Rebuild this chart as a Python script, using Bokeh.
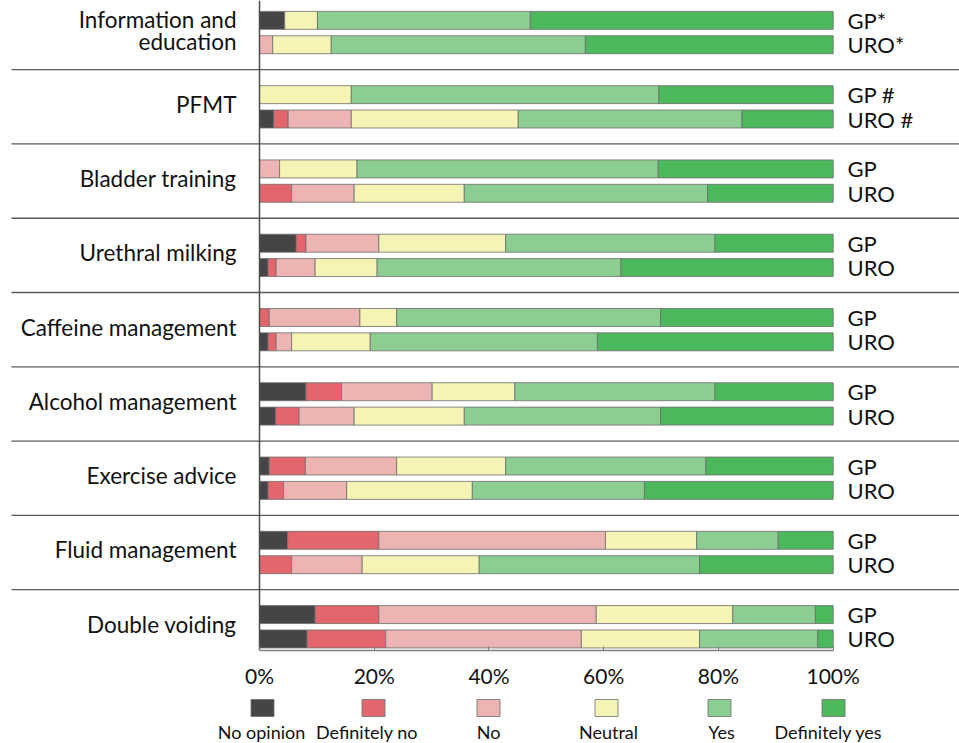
from bokeh.plotting import figure
from bokeh.models import Range1d, LinearAxis, FixedTicker, PrintfTickFormatter, ColumnDataSource
from bokeh.layouts import column
from bokeh.embed import file_html
from bokeh.resources import INLINE
from bokeh.core.properties import value

# ---------------- data ----------------
topics = ["Information and\neducation", "PFMT", "Bladder training", "Urethral milking",
          "Caffeine management", "Alcohol management", "Exercise advice",
          "Fluid management", "Double voiding"]
gp_labels = ["GP*", "GP #", "GP", "GP", "GP", "GP", "GP", "GP", "GP"]
uro_labels = ["URO*", "URO #", "URO", "URO", "URO", "URO", "URO", "URO", "URO"]
responses = ["No opinion", "Definitely no", "No", "Neutral", "Yes", "Definitely yes"]
colors = ["#454547", "#E3666D", "#EDB4B4", "#F5F4B5", "#8CCD91", "#4CB85C"]

gp_no_opinion = [4.4, 0, 0, 6.4, 0, 8.1, 1.7, 4.9, 9.7]
gp_def_no     = [0, 0, 0, 1.7, 1.7, 6.2, 6.3, 15.9, 11.1]
gp_no         = [0, 0, 3.5, 12.7, 15.8, 15.8, 15.9, 39.5, 37.9]
gp_neutral    = [5.7, 16.0, 13.5, 22.1, 6.4, 14.4, 19.0, 15.9, 23.8]
gp_yes        = [37.1, 53.6, 52.5, 36.5, 46.0, 34.9, 34.9, 14.2, 14.4]
gp_def_yes    = [52.8, 30.4, 30.5, 20.6, 30.1, 20.6, 22.2, 9.6, 3.1]

uro_no_opinion = [0, 2.5, 0, 1.5, 1.5, 2.8, 1.5, 0, 8.3]
uro_def_no     = [0, 2.5, 5.6, 1.4, 1.4, 4.1, 2.7, 5.6, 13.7]
uro_no         = [2.3, 11.0, 10.9, 6.8, 2.7, 9.6, 11.0, 12.3, 34.1]
uro_neutral    = [10.2, 29.1, 19.2, 10.8, 13.7, 19.2, 21.9, 20.4, 20.6]
uro_yes        = [44.3, 39.0, 42.4, 42.5, 39.6, 34.2, 30.0, 38.4, 20.6]
uro_def_yes    = [43.2, 15.9, 21.9, 37.0, 41.1, 30.1, 32.9, 23.3, 2.7]

ticks = [0, 20, 40, 60, 80, 100]

# ---------------- layout constants ----------------
W = 959
PX = 5.737            # pixels per percent
X0_PX = 259           # figure-x of 0 %
GROUP_PX = 74.39      # pixels per topic group
GROUP0_PX = 32.1      # page-y of first group centre
x_start = -X0_PX / PX
x_end = 100 + (W - X0_PX - 573.7) / PX
FONT = value("Lato")
EDGE = "#6E6E6E"

def px_x(v):
    return (v - X0_PX) / PX

xr = Range1d(start=x_start, end=x_end)
main_h = 690
frame_h = 651
top_off = (0 - GROUP0_PX) / GROUP_PX
yr = Range1d(start=top_off + frame_h / GROUP_PX, end=top_off)

p = figure(width=W, height=main_h, x_range=xr, y_range=yr, output_backend="svg",
           toolbar_location=None, x_axis_location=None, y_axis_location=None,
           min_border_left=0, min_border_right=0, min_border_top=0,
           min_border_bottom=main_h - frame_h)
p.outline_line_color = None
p.xgrid.visible = False
p.ygrid.visible = False

gp_series = [gp_no_opinion, gp_def_no, gp_no, gp_neutral, gp_yes, gp_def_yes]
uro_series = [uro_no_opinion, uro_def_no, uro_no, uro_neutral, uro_yes, uro_def_yes]

off = 12.2 / GROUP_PX
bh = 18.0 / GROUP_PX
ys, lefts, rights, fills = [], [], [], []
for series, dy in ((gp_series, -off), (uro_series, off)):
    for i in range(len(topics)):
        cum = 0.0
        for k, s in enumerate(series):
            v = s[i]
            if v > 0:
                ys.append(i + dy)
                lefts.append(cum)
                rights.append(cum + v)
                fills.append(colors[k])
            cum += v
src = ColumnDataSource(dict(y=ys, left=lefts, right=rights, fill=fills))
p.hbar(y="y", left="left", right="right", height=bh, fill_color="fill",
       line_color=EDGE, line_width=1, line_alpha=0.8, source=src)

# separators between topics
n = len(topics)
sep_y = [i + 0.5 for i in range(n - 1)]
p.segment(x0=[px_x(11)] * len(sep_y), x1=[x_end] * len(sep_y), y0=sep_y, y1=sep_y,
          line_color="#5A5A5A", line_width=1.3)
# vertical base line at 0 %
p.segment(x0=[0], x1=[0], y0=[yr.end], y1=[yr.start], line_color="#4D4D4D", line_width=1.5)

# topic labels (left)
lx, ly, lt = [], [], []
line_gap = 22.0 / GROUP_PX
lift = 2.5 / GROUP_PX
for i, t in enumerate(topics):
    parts = t.split("\n")
    m = len(parts)
    for j, part in enumerate(parts):
        lx.append(px_x(236))
        ly.append(i - lift + (j - (m - 1) / 2) * line_gap)
        lt.append(part)
p.text(x=lx, y=ly, text=lt, text_font=FONT, text_font_size="22.5px", text_align="right",
       text_baseline="middle", text_color="#111111")

# group labels (right)
rx = [px_x(847)] * (2 * n)
ry = [i - off for i in range(n)] + [i + off for i in range(n)]
rt = gp_labels + uro_labels
p.text(x=rx, y=ry, text=rt, text_font=FONT, text_font_size="22px", text_align="left",
       text_baseline="middle", text_color="#111111")

# x axis
xaxis = LinearAxis(ticker=FixedTicker(ticks=ticks), formatter=PrintfTickFormatter(format="%d%%"),
                   bounds=(0, 100))
xaxis.axis_line_color = "#7F7F7F"
xaxis.axis_line_width = 1.5
xaxis.major_tick_line_color = "#7F7F7F"
xaxis.major_tick_in = 4
xaxis.major_tick_out = 0
xaxis.minor_tick_line_color = None
xaxis.major_label_standoff = 12
xaxis.major_label_text_font = "Lato"
xaxis.major_label_text_font_size = "21px"
xaxis.major_label_text_color = "#111111"
p.add_layout(xaxis, "below")

# ---------------- legend figure ----------------
leg_top = main_h
leg_h = 52
lg = figure(width=W, height=leg_h, x_range=xr, y_range=Range1d(start=leg_top + leg_h, end=leg_top),
            output_backend="svg", toolbar_location=None, x_axis_location=None, y_axis_location=None,
            min_border=0)
lg.outline_line_color = None
lg.xgrid.visible = False
lg.ygrid.visible = False
sq_px = [262, 373, 488, 606, 719, 833]
lab_px = [261, 366.5, 488, 608, 721, 828]
sq_x = [px_x(v) for v in sq_px]
lab_x = [px_x(v) for v in lab_px]
lg.rect(x=sq_x, y=[707.5] * 6, width=23 / PX, height=17, fill_color=colors,
        line_color=EDGE, line_width=1, line_alpha=0.8)
lg.text(x=lab_x, y=[731.5] * 6, text=responses, text_font=FONT, text_font_size="18px",
        text_align="center", text_baseline="middle", text_color="#111111")

layout = column(p, lg, spacing=0)
open("out.html", "w").write(file_html(layout, INLINE))
